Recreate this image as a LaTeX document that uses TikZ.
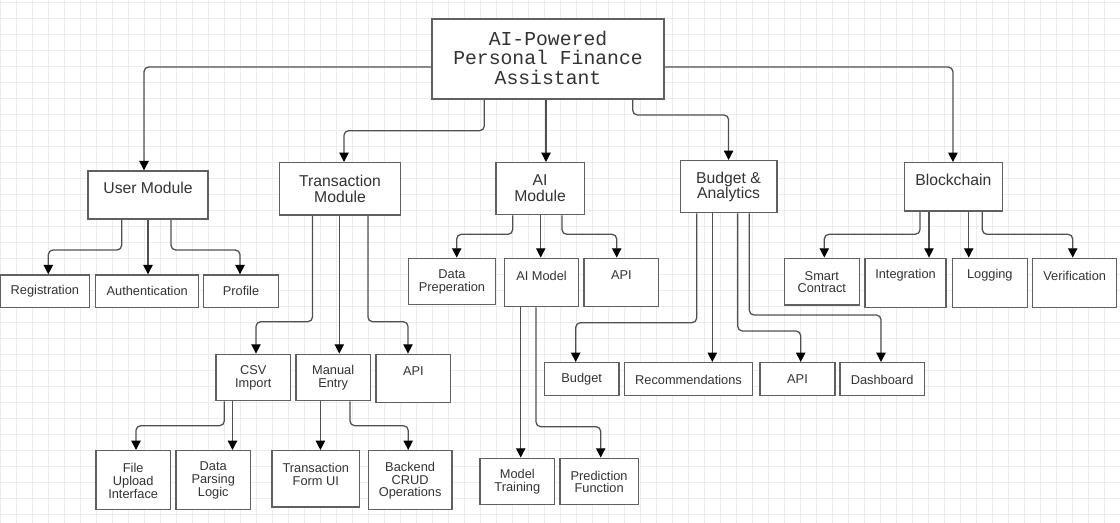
\documentclass[tikz,border=0pt]{standalone}
\usepackage{fontspec}
\setmainfont{Liberation Sans}
\newfontfamily\monof{Liberation Mono}
\usetikzlibrary{arrows.meta}
\definecolor{boxc}{HTML}{606060}
\definecolor{linec}{HTML}{505050}
\definecolor{txtc}{HTML}{333333}
\definecolor{gridc}{HTML}{EDEDED}
\tikzset{
  box/.style={draw=boxc, line width=1.05pt, fill=white, inner sep=0pt},
  leaf/.style={align=center, inner sep=0pt, text=txtc, yshift=-0.9pt, font=\fontsize{9.6}{9.6}\selectfont},
  modl/.style={align=center, inner sep=0pt, text=txtc, yshift=-0.8pt, font=\fontsize{11.8}{11.8}\selectfont},
  rootl/.style={align=center, inner sep=0pt, text=txtc, font=\monof\fontsize{14.8}{14.4}\selectfont},
  conn/.style={draw=linec, line width=0.95pt, rounded corners=3.5pt,
    -{Triangle[length=7pt,width=7pt,fill=black,color=black]}},
  gridline/.style={draw=gridc, line width=0.95pt}
}
% #1 label style, #2 name, #3 x1, #4 y1, #5 x2, #6 y2, #7 text y, #8 text
\newcommand\bnode[8]{%
  \pgfmathsetmacro\bnw{(#5-#3)*0.75}%
  \pgfmathsetmacro\bnh{(#6-#4)*0.75}%
  \node[box, minimum width=\bnw pt, minimum height=\bnh pt] (#2) at ({(#3+#5)/2},{(#4+#6)/2}) {};
  \node[#1] (#2-t) at ({(#3+#5)/2},#7) {#8};
}
\begin{document}
\begin{tikzpicture}[x=0.75pt,y=-0.75pt]
\useasboundingbox (0,0) rectangle (1120,523);
\fill[white] (0,0) rectangle (1120,523);
\foreach \gx in {0.7,16.7,...,1120} \draw[gridline] (\gx,0) -- (\gx,523);
\foreach \gy in {2.7,18.7,...,523} \draw[gridline] (0,\gy) -- (1120,\gy);

% root
\bnode{rootl}{root}{432}{19}{664}{99}{57.8}{AI-Powered\\Personal Finance\\Assistant}

% modules
\bnode{modl}{um}{88}{171}{208}{219}{187.3}{User Module}
\bnode{modl}{tm}{279.6}{162.7}{400.4}{215}{187.8}{Transaction\\Module}
\bnode{modl}{am}{496}{162.7}{584.3}{214.7}{187.2}{AI\\Module}
\bnode{modl}{bm}{680.4}{160.7}{776.8}{212.7}{185.8}{Budget \&\\Analytics}
\bnode{modl}{bc}{904.3}{162.7}{1002.3}{211}{179.3}{Blockchain}

% user leaves
\bnode{leaf}{reg}{0.5}{275}{89.3}{307.7}{290}{Registration}
\bnode{leaf}{auth}{95.7}{275}{198.7}{307.7}{290}{Authentication}
\bnode{leaf}{prof}{203.7}{275}{278.3}{307.7}{290}{Profile}

% transaction children
\bnode{leaf}{csv}{216}{354.3}{290.4}{400.7}{376.7}{CSV\\Import}
\bnode{leaf}{man}{296}{354.3}{370.4}{400.7}{376.7}{Manual\\Entry}
\bnode{leaf}{tapi}{376}{354.3}{450.7}{402.7}{370}{API}
\bnode{leaf}{fui}{96}{450.7}{170.4}{509.3}{479.5}{File\\Upload\\Interface}
\bnode{leaf}{dpl}{176}{450.7}{250.4}{509.3}{479.5}{Data\\Parsing\\Logic}
\bnode{leaf}{tfu}{272}{450.7}{359.6}{507}{473}{Transaction\\Form UI}
\bnode{leaf}{bco}{368.2}{450.7}{452.1}{509.3}{479.5}{Backend\\CRUD\\Operations}

% AI children
\bnode{leaf}{dp}{408.3}{258.3}{495.7}{304.7}{280.5}{Data\\Preperation}
\bnode{leaf}{aim}{504.3}{258.3}{578.7}{306.7}{274.3}{AI Model}
\bnode{leaf}{aapi}{584}{258.3}{658.7}{306.7}{274.3}{API}
\bnode{leaf}{mt}{480}{458.3}{554.7}{504.3}{480.7}{Model\\Training}
\bnode{leaf}{pf}{560}{458.3}{638.3}{504.3}{480.7}{Prediction\\Function}

% budget children
\bnode{leaf}{bud}{544.3}{362.7}{619}{395.7}{378.3}{Budget}
\bnode{leaf}{rec}{624.3}{362.7}{752.7}{395.7}{378.3}{Recommendations}
\bnode{leaf}{bapi}{760}{362.7}{835}{395.7}{378.3}{API}
\bnode{leaf}{dash}{840}{362.7}{924.3}{395.7}{378.3}{Dashboard}

% blockchain children
\bnode{leaf}{sc}{784.3}{258.3}{859.3}{305}{280.8}{Smart\\Contract}
\bnode{leaf}{int}{865}{258.3}{946}{307.3}{274.3}{Integration}
\bnode{leaf}{log}{952.3}{258.3}{1027.3}{307.3}{274.3}{Logging}
\bnode{leaf}{ver}{1032.7}{258.3}{1116.7}{307.3}{274.3}{Verification}

% root connectors
\draw[conn] (root.west |- 0,67) -| (um.north -| 144,0);
\draw[conn] (root.south -| 484.3,0) |- (344,130.7) -- (tm.north -| 344,0);
\draw[conn] (root.south -| 546,0) -- (am.north -| 546,0);
\draw[conn] (root.south -| 632.7,0) |- (728.6,115) -- (bm.north -| 728.6,0);
\draw[conn] (root.east |- 0,67) -| (bc.north -| 952.9,0);

% user module
\draw[conn] (um.south -| 121.7,0) |- (48.3,250) -- (reg.north -| 48.3,0);
\draw[conn] (um.south -| 148,0) -- (auth.north -| 148,0);
\draw[conn] (um.south -| 171,0) |- (240,250) -- (prof.north -| 240,0);

% transaction module
\draw[conn] (tm.south -| 312.5,0) |- (256,321.7) -- (csv.north -| 256,0);
\draw[conn] (tm.south -| 339.3,0) -- (man.north -| 339.3,0);
\draw[conn] (tm.south -| 367.9,0) |- (408,321.7) -- (tapi.north -| 408,0);
\draw[conn] (csv.south -| 224.3,0) |- (136,425.7) -- (fui.north -| 136,0);
\draw[conn] (csv.south -| 232.5,0) -- (dpl.north -| 232.5,0);
\draw[conn] (man.south -| 320.4,0) -- (tfu.north -| 320.4,0);
\draw[conn] (man.south -| 350,0) |- (408.2,425.7) -- (bco.north -| 408.2,0);

% AI module
\draw[conn] (am.south -| 512.7,0) |- (456.7,234.3) -- (dp.north -| 456.7,0);
\draw[conn] (am.south -| 540.7,0) -- (aim.north -| 540.7,0);
\draw[conn] (am.south -| 562,0) |- (616.7,234.3) -- (aapi.north -| 616.7,0);
\draw[conn] (aim.south -| 520.7,0) -- (mt.north -| 520.7,0);
\draw[conn] (aim.south -| 536,0) |- (600.7,426.7) -- (pf.north -| 600.7,0);

% budget module
\draw[conn] (bm.south -| 696.7,0) |- (575.7,322.7) -- (bud.north -| 575.7,0);
\draw[conn] (bm.south -| 712.3,0) -- (rec.north -| 712.3,0);
\draw[conn] (bm.south -| 737.7,0) |- (800.7,331) -- (bapi.north -| 800.7,0);
\draw[conn] (bm.south -| 749.3,0) |- (881,315) -- (dash.north -| 881,0);

% blockchain
\draw[conn] (bc.south -| 920,0) |- (824.3,234.3) -- (sc.north -| 824.3,0);
\draw[conn] (bc.south -| 929,0) -- (int.north -| 929,0);
\draw[conn] (bc.south -| 968.7,0) -- (log.north -| 968.7,0);
\draw[conn] (bc.south -| 982.3,0) |- (1072.7,234.3) -- (ver.north -| 1072.7,0);
\end{tikzpicture}
\end{document}
